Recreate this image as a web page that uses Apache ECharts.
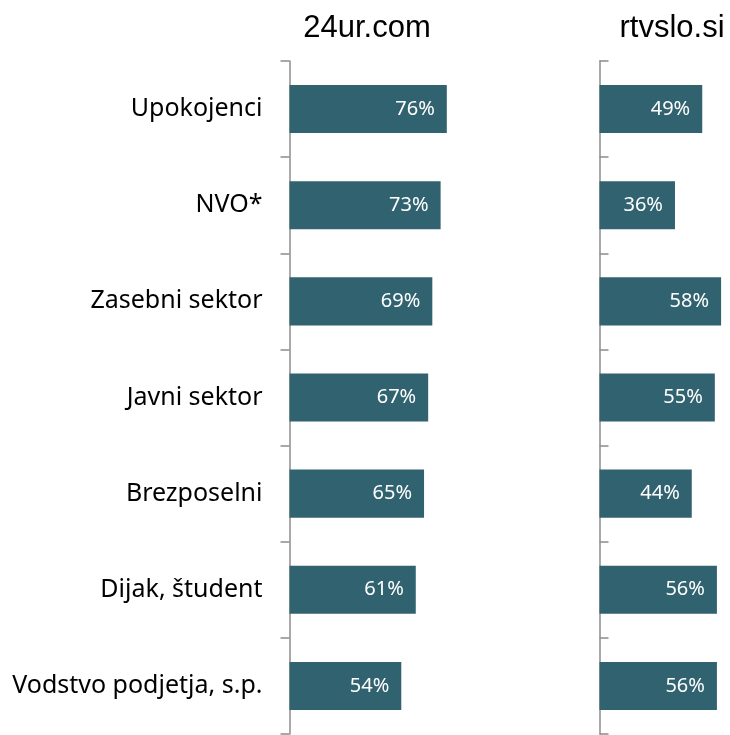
<!DOCTYPE html>
<html>
<head>
<meta charset="utf-8">
<script src="https://cdn.jsdelivr.net/npm/echarts@6/dist/echarts.min.js"></script>
<style>
  html, body { margin: 0; padding: 0; background: #fff; }
  #main { width: 730px; height: 735px; }
</style>
</head>
<body>
<div id="main"></div>
<script>
// kategorije in vrednosti (v %)
var categories = ["Upokojenci", "NVO*", "Zasebni sektor", "Javni sektor", "Brezposelni", "Dijak, študent", "Vodstvo podjetja, s.p."];
var titles = ["24ur.com", "rtvslo.si"];
var val24ur = [76, 73, 69, 67, 65, 61, 54];
var valRtv = [49, 36, 58, 55, 44, 56, 56];

var barColor = "#31626f";
var axisColor = "#8c8c8c";

var myChart = echarts.init(document.getElementById("main"));

var labelStyle = {
  show: true,
  position: "insideRight",
  distance: 12,
  color: "#fff",
  fontFamily: "Noto Sans",
  fontWeight: "normal",
  fontSize: 20,
  formatter: "{c}%"
};

var option = {
  animation: false,
  title: [
    { text: titles[0], left: 367, top: 13, padding: 0, textAlign: "center",
      textStyle: { fontFamily: "Liberation Sans", fontSize: 31, fontWeight: "normal", color: "#000" } },
    { text: titles[1], left: 672, top: 13, padding: 0, textAlign: "center",
      textStyle: { fontFamily: "Liberation Sans", fontSize: 31, fontWeight: "normal", color: "#000" } }
  ],
  grid: [
    { left: 289.5, top: 61, width: 207, bottom: 1 },
    { left: 599.5, top: 61, width: 130, bottom: 1 }
  ],
  xAxis: [
    { gridIndex: 0, type: "value", min: 0, max: 100, show: false },
    { gridIndex: 1, type: "value", min: 0, max: 62, show: false }
  ],
  yAxis: [
    {
      gridIndex: 0,
      type: "category",
      inverse: true,
      data: categories,
      axisLine: { show: true, lineStyle: { color: axisColor, width: 1.5 } },
      axisTick: { show: true, length: 9, lineStyle: { color: axisColor, width: 1.5 } },
      axisLabel: { margin: 27, color: "#000", fontFamily: "Noto Sans", fontSize: 25 }
    },
    {
      gridIndex: 1,
      type: "category",
      inverse: true,
      data: categories,
      axisLine: { show: true, lineStyle: { color: axisColor, width: 1.5 } },
      axisTick: { show: true, inside: true, length: 9, lineStyle: { color: axisColor, width: 1.5 } },
      axisLabel: { show: false }
    }
  ],
  series: [
    {
      name: titles[0],
      type: "bar",
      xAxisIndex: 0,
      yAxisIndex: 0,
      barCategoryGap: "50%",
      itemStyle: { color: barColor },
      label: labelStyle,
      data: val24ur
    },
    {
      name: titles[1],
      type: "bar",
      xAxisIndex: 1,
      yAxisIndex: 1,
      barCategoryGap: "50%",
      itemStyle: { color: barColor },
      label: labelStyle,
      data: valRtv
    }
  ]
};

myChart.setOption(option);
window.onresize = myChart.resize;
</script>
</body>
</html>
